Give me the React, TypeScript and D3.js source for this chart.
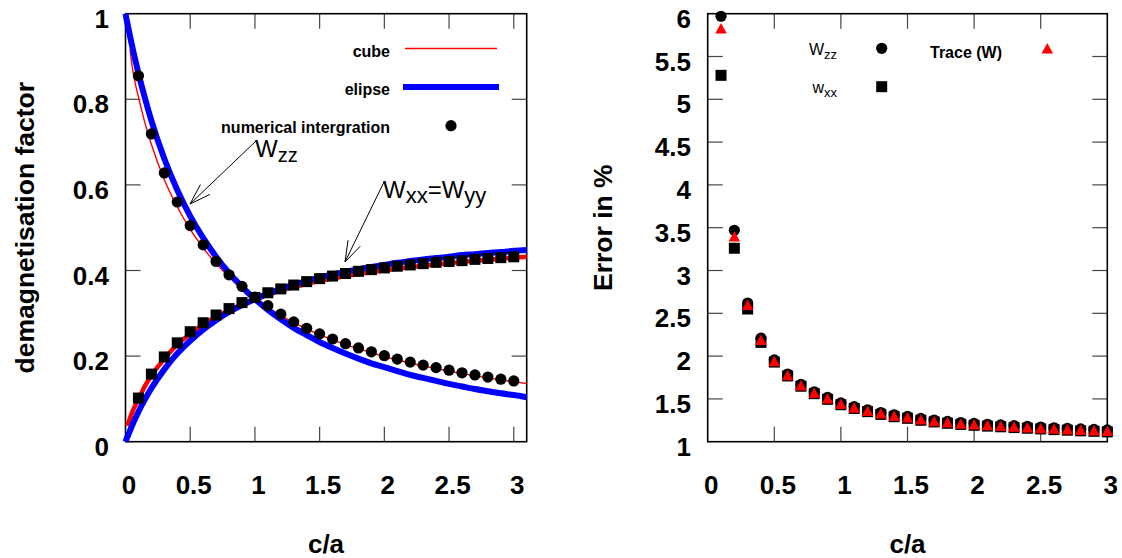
import React from "react";
import * as d3 from "d3";

// ---------- data ----------
const leftXTicks = [0, 0.5, 1, 1.5, 2, 2.5, 3];
const leftXTickLabels = ["0", "0.5", "1", "1.5", "2", "2.5", "3"];
const leftYTicks = [0, 0.2, 0.4, 0.6, 0.8, 1];
const leftYTickLabels = ["0", "0.2", "0.4", "0.6", "0.8", "1"];

const rightXTicks = [0, 0.5, 1, 1.5, 2, 2.5, 3];
const rightXTickLabels = ["0", "0.5", "1", "1.5", "2", "2.5", "3"];
const rightYTicks = [1, 1.5, 2, 2.5, 3, 3.5, 4, 4.5, 5, 5.5, 6];
const rightYTickLabels = ["1", "1.5", "2", "2.5", "3", "3.5", "4", "4.5", "5", "5.5", "6"];

// ellipsoid (blue) curves
const ellipseX = [0, 0.01, 0.02, 0.05, 0.1, 0.15, 0.2, 0.3, 0.4, 0.5, 0.6, 0.7, 0.8, 0.9, 1.0, 1.1, 1.2, 1.3, 1.4, 1.5, 1.6, 1.7, 1.8, 1.9, 2.0, 2.1, 2.2, 2.3, 2.4, 2.5, 2.6, 2.7, 2.8, 2.9, 3.0, 3.1];
const ellipseZZ = [1.0, 0.984, 0.969, 0.926, 0.861, 0.803, 0.750, 0.661, 0.588, 0.527, 0.476, 0.432, 0.394, 0.362, 0.333, 0.308, 0.286, 0.266, 0.249, 0.233, 0.219, 0.206, 0.194, 0.183, 0.174, 0.165, 0.156, 0.149, 0.142, 0.135, 0.129, 0.123, 0.118, 0.113, 0.109, 0.104];
const ellipseXX = [0, 0.008, 0.015, 0.037, 0.070, 0.099, 0.125, 0.169, 0.206, 0.236, 0.262, 0.284, 0.303, 0.319, 0.333, 0.346, 0.357, 0.367, 0.376, 0.384, 0.391, 0.397, 0.403, 0.408, 0.413, 0.418, 0.422, 0.426, 0.429, 0.432, 0.436, 0.438, 0.441, 0.443, 0.446, 0.448];

// cube (red) curves
const cubeZZX = [0.035, 0.05, 0.075, 0.1, 0.15, 0.2, 0.3, 0.4, 0.5, 0.6, 0.7, 0.8, 0.9, 1.0, 1.1, 1.2, 1.3, 1.4, 1.5, 1.6, 1.7, 1.8, 1.9, 2.0, 2.1, 2.2, 2.3, 2.4, 2.5, 2.6, 2.7, 2.8, 2.9, 3.0, 3.1];
const cubeZZ = [0.917, 0.88, 0.838, 0.806, 0.745, 0.695, 0.612, 0.549, 0.496, 0.453, 0.416, 0.385, 0.358, 0.334, 0.314, 0.295, 0.278, 0.2635, 0.250, 0.238, 0.227, 0.217, 0.208, 0.199, 0.191, 0.184, 0.177, 0.171, 0.165, 0.159, 0.154, 0.149, 0.144, 0.140, 0.136];
const cubeXXX = [0.015, 0.05, 0.1, 0.15, 0.2, 0.3, 0.4, 0.5, 0.6, 0.7, 0.8, 0.9, 1.0, 1.1, 1.2, 1.3, 1.4, 1.5, 1.6, 1.7, 1.8, 1.9, 2.0, 2.1, 2.2, 2.3, 2.4, 2.5, 2.6, 2.7, 2.8, 2.9, 3.0, 3.1];
const cubeXX = [0.037, 0.068, 0.099, 0.13, 0.154, 0.194, 0.227, 0.252, 0.274, 0.292, 0.307, 0.321, 0.333, 0.343, 0.353, 0.361, 0.369, 0.376, 0.381, 0.387, 0.392, 0.396, 0.400, 0.404, 0.408, 0.411, 0.414, 0.417, 0.420, 0.423, 0.425, 0.428, 0.430, 0.432];

// numerical integration points
const numX = [0.1, 0.2, 0.3, 0.4, 0.5, 0.6, 0.7, 0.8, 0.9, 1.0, 1.1, 1.2, 1.3, 1.4, 1.5, 1.6, 1.7, 1.8, 1.9, 2.0, 2.1, 2.2, 2.3, 2.4, 2.5, 2.6, 2.7, 2.8, 2.9, 3.0];
const numZZ = [0.855, 0.719, 0.628, 0.560, 0.505, 0.460, 0.421, 0.390, 0.363, 0.338, 0.318, 0.298, 0.280, 0.265, 0.252, 0.240, 0.229, 0.219, 0.210, 0.201, 0.193, 0.186, 0.179, 0.173, 0.167, 0.161, 0.156, 0.151, 0.146, 0.142];
const numXX = [0.102, 0.158, 0.198, 0.231, 0.257, 0.278, 0.296, 0.311, 0.325, 0.337, 0.348, 0.357, 0.366, 0.374, 0.381, 0.387, 0.393, 0.398, 0.402, 0.406, 0.410, 0.413, 0.416, 0.419, 0.421, 0.423, 0.426, 0.428, 0.430, 0.432];

// error in % (right panel)
const errZZ = [5.97, 3.47, 2.62, 2.21, 1.955, 1.79, 1.67, 1.583, 1.517, 1.454, 1.41, 1.373, 1.341, 1.314, 1.295, 1.272, 1.253, 1.237, 1.224, 1.213, 1.204, 1.196, 1.187, 1.179, 1.171, 1.163, 1.156, 1.149, 1.143, 1.137];
const errXX = [5.28, 3.26, 2.55, 2.16, 1.93, 1.768, 1.648, 1.561, 1.495, 1.432, 1.388, 1.351, 1.319, 1.292, 1.273, 1.25, 1.231, 1.215, 1.202, 1.191, 1.182, 1.174, 1.165, 1.157, 1.149, 1.141, 1.134, 1.127, 1.121, 1.115];
const errTrace = [5.83, 3.40, 2.60, 2.19, 1.944, 1.78, 1.66, 1.573, 1.507, 1.444, 1.40, 1.363, 1.331, 1.304, 1.285, 1.262, 1.243, 1.227, 1.214, 1.203, 1.194, 1.186, 1.177, 1.169, 1.161, 1.153, 1.146, 1.139, 1.133, 1.127];

// ---------- layout ----------
const FONT = "'Liberation Sans', Arial, Helvetica, sans-serif";
const TOP = 13.7;
const BOTTOM = 441.7;
const xL = d3.scaleLinear().domain([0, 3.1]).range([125.5, 526.7]);
const yL = d3.scaleLinear().domain([0, 1]).range([BOTTOM, TOP]);
const xR = d3.scaleLinear().domain([0, 3]).range([707.7, 1107.3]);
const yR = d3.scaleLinear().domain([1, 6]).range([BOTTOM, TOP]);

const TICK = 15;
const LABEL_SIZE = 26;

function Frame({ x, y, xt, xtl, yt, ytl, ylabelRight }: any) {
  const [x0, x1] = x.range();
  const [y0, y1] = y.range();
  const tickColor = "#444";
  return (
    <g>
      {xt.map((v: number, i: number) => {
        const px = x(v);
        const edge = Math.abs(px - x0) < 1 || Math.abs(px - x1) < 1;
        return (
          <g key={"xt" + i}>
            {!edge && <line x1={px} x2={px} y1={y0} y2={y0 - TICK} stroke={tickColor} strokeWidth={1.2} />}
            {!edge && <line x1={px} x2={px} y1={y1} y2={y1 + TICK} stroke={tickColor} strokeWidth={1.2} />}
            <text x={px + 3.5} y={494} textAnchor="middle" fontFamily={FONT} fontWeight="bold" fontSize={LABEL_SIZE} fill="#000">
              {xtl[i]}
            </text>
          </g>
        );
      })}
      {yt.map((v: number, i: number) => {
        const py = y(v);
        const edge = Math.abs(py - y0) < 1 || Math.abs(py - y1) < 1;
        return (
          <g key={"yt" + i}>
            {!edge && <line x1={x0} x2={x0 + TICK} y1={py} y2={py} stroke={tickColor} strokeWidth={1.2} />}
            {!edge && <line x1={x1} x2={x1 - TICK} y1={py} y2={py} stroke={tickColor} strokeWidth={1.2} />}
            <text x={ylabelRight} y={py + 5} dy="0.35em" textAnchor="end" fontFamily={FONT} fontWeight="bold" fontSize={LABEL_SIZE} fill="#000">
              {ytl[i]}
            </text>
          </g>
        );
      })}
      <rect x={x0} y={y1} width={x1 - x0} height={y0 - y1} fill="none" stroke="#000" strokeWidth={1.6} />
    </g>
  );
}

function Arrow({ x1, y1, x2, y2 }: any) {
  const ang = Math.atan2(y1 - y2, x1 - x2);
  const L = 22;
  const a = (18 * Math.PI) / 180;
  const h1 = [x2 + L * Math.cos(ang - a), y2 + L * Math.sin(ang - a)];
  const h2 = [x2 + L * Math.cos(ang + a), y2 + L * Math.sin(ang + a)];
  return (
    <g stroke="#000" strokeWidth={1} fill="none">
      <line x1={x1} y1={y1} x2={x2} y2={y2} />
      <line x1={x2} y1={y2} x2={h1[0]} y2={h1[1]} />
      <line x1={x2} y1={y2} x2={h2[0]} y2={h2[1]} />
    </g>
  );
}

function tri(cx: number, cy: number, w = 11.5, h = 10.5) {
  return `M${cx - w / 2},${cy + h / 2}L${cx + w / 2},${cy + h / 2}L${cx},${cy - h / 2}Z`;
}

export default function App() {
  const lineL = d3
    .line<[number, number]>()
    .x((d) => xL(d[0]))
    .y((d) => yL(d[1]))
    .curve(d3.curveMonotoneX);

  const ellZZ = ellipseX.map((v, i) => [v, ellipseZZ[i]] as [number, number]);
  const ellXX = ellipseX.map((v, i) => [v, ellipseXX[i]] as [number, number]);
  const cZZ = cubeZZX.map((v, i) => [v, cubeZZ[i]] as [number, number]);
  const cXX = cubeXXX.map((v, i) => [v, cubeXX[i]] as [number, number]);

  const R = 5.6;
  const S = 11;

  return (
    <svg width={1122} height={558} style={{ position: "absolute", left: 0, top: 0, background: "#fff" }}>
      <rect x={0} y={0} width={1122} height={558} fill="#fff" />

      {/* ---------- LEFT PANEL ---------- */}
      <Frame x={xL} y={yL} xt={leftXTicks} xtl={leftXTickLabels} yt={leftYTicks} ytl={leftYTickLabels} ylabelRight={109} />

      {/* cube (red) */}
      <path d={lineL(cZZ) || ""} fill="none" stroke="#ff0000" strokeWidth={1.4} />
      <path d={lineL(cXX) || ""} fill="none" stroke="#ff0000" strokeWidth={4.5} />
      {/* ellipse (blue) */}
      <path d={lineL(ellZZ) || ""} fill="none" stroke="#0000ff" strokeWidth={6} />
      <path d={lineL(ellXX) || ""} fill="none" stroke="#0000ff" strokeWidth={6} />

      {/* numerical points */}
      {numX.map((v, i) => (
        <circle key={"cz" + i} cx={xL(v)} cy={yL(numZZ[i])} r={R} fill="#000" />
      ))}
      {numX.map((v, i) => (
        <rect key={"sx" + i} x={xL(v) - S / 2} y={yL(numXX[i]) - S / 2} width={S} height={S} fill="#000" />
      ))}

      {/* legend */}
      <g fontFamily={FONT} fontWeight="bold" fontSize={16} fill="#000">
        <text x={390} y={57} textAnchor="end">cube</text>
        <line x1={405} x2={497} y1={48.5} y2={48.5} stroke="#ff0000" strokeWidth={1.4} />
        <text x={390} y={95} textAnchor="end">elipse</text>
        <line x1={403} x2={499} y1={87} y2={87} stroke="#0000ff" strokeWidth={6} />
        <text x={390} y={133} textAnchor="end">numerical intergration</text>
        <circle cx={451} cy={125.7} r={R} fill="#000" />
      </g>

      {/* annotations */}
      <g fontFamily={FONT} fill="#000">
        <text x={255} y={157} fontSize={24}>
          W<tspan fontSize={20} dy={5}>zz</tspan>
        </text>
        <text x={383} y={198} fontSize={24}>
          W<tspan fontSize={22} dy={5}>xx</tspan>
          <tspan fontSize={24} dy={-5}>=W</tspan>
          <tspan fontSize={22} dy={5}>yy</tspan>
        </text>
      </g>
      <Arrow x1={256} y1={141} x2={190} y2={204} />
      <Arrow x1={384} y1={182} x2={345} y2={262} />

      {/* axis titles */}
      <text x={326} y={553} textAnchor="middle" fontFamily={FONT} fontWeight="bold" fontSize={LABEL_SIZE}>c/a</text>
      <text transform={`translate(25,${(TOP + BOTTOM) / 2}) rotate(-90)`} dy="0.35em" textAnchor="middle" fontFamily={FONT} fontWeight="bold" fontSize={26.5}>
        demagnetisation factor
      </text>

      {/* ---------- RIGHT PANEL ---------- */}
      <Frame x={xR} y={yR} xt={rightXTicks} xtl={rightXTickLabels} yt={rightYTicks} ytl={rightYTickLabels} ylabelRight={691} />

      {numX.map((v, i) => (
        <circle key={"ez" + i} cx={xR(v)} cy={yR(errZZ[i])} r={R} fill="#000" />
      ))}
      {numX.map((v, i) => (
        <rect key={"ex" + i} x={xR(v) - S / 2} y={yR(errXX[i]) - S / 2} width={S} height={S} fill="#000" />
      ))}
      {numX.map((v, i) => (
        <path key={"et" + i} d={tri(xR(v), yR(errTrace[i]))} fill="#ff0000" />
      ))}

      {/* right legend */}
      <g fontFamily={FONT} fill="#000">
        <text x={837} y={55} textAnchor="end" fontSize={16}>
          W<tspan fontSize={13} dy={3.5}>zz</tspan>
        </text>
        <circle cx={881.7} cy={48.3} r={R} fill="#000" />
        <text x={1002} y={57.5} textAnchor="end" fontSize={16} fontWeight="bold">Trace (W)</text>
        <path d={tri(1047.3, 48.3)} fill="#ff0000" />
        <text x={837} y={93} textAnchor="end" fontSize={16}>
          w<tspan fontSize={13} dy={3.5}>xx</tspan>
        </text>
        <rect x={881.7 - S / 2} y={86.7 - S / 2} width={S} height={S} fill="#000" />
      </g>

      <text x={907.5} y={553} textAnchor="middle" fontFamily={FONT} fontWeight="bold" fontSize={LABEL_SIZE}>c/a</text>
      <text transform={`translate(603,${(TOP + BOTTOM) / 2}) rotate(-90)`} dy="0.35em" textAnchor="middle" fontFamily={FONT} fontWeight="bold" fontSize={26.5}>
        Error in %
      </text>
    </svg>
  );
}
